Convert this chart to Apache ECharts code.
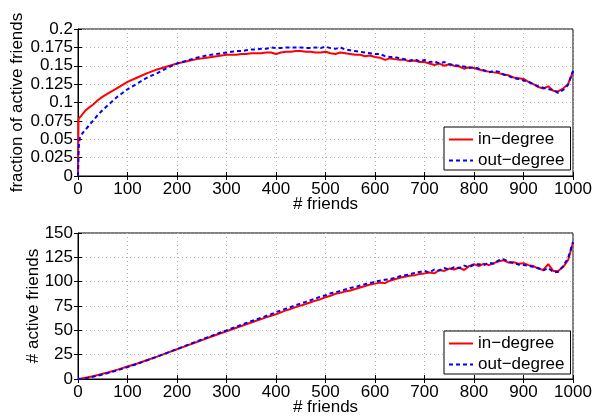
<!DOCTYPE html>
<html>
  <head>
    <meta charset="utf-8" />
    <title>active friends</title>
    <script src="https://cdn.jsdelivr.net/npm/echarts@6/dist/echarts.min.js"></script>
    <style>
      html, body { margin: 0; padding: 0; background: #fff; }
      #chart { width: 593px; height: 419px; }
    </style>
  </head>
  <body>
    <div id="chart"></div>
    <script>
      // x positions (# friends)
      const friends = [0, 1, 2, 4, 7, 10, 15, 20, 30, 40, 50, 60, 80, 100, 120, 140, 160, 180, 200, 220, 240, 260, 280, 300,
        310, 320, 330, 340, 350, 360, 370, 380, 390, 400, 410, 420, 430, 440, 450, 460, 470, 480, 490, 500,
        510, 520, 530, 540, 550, 560, 570, 580, 590, 600, 610, 620, 630, 640, 650, 660, 670, 680, 690, 700,
        710, 720, 730, 740, 750, 760, 770, 780, 790, 800, 810, 820, 830, 840, 850, 860, 870, 880, 890, 900,
        910, 920, 930, 940, 950, 960, 970, 980, 990, 1000]

      // top panel: fraction of active friends
      const fracIn = [0, 0.076, 0.079, 0.08, 0.082, 0.085, 0.089, 0.092, 0.097, 0.103, 0.108, 0.112, 0.12, 0.128, 0.134, 0.14, 0.145, 0.149, 0.153, 0.156, 0.159, 0.161, 0.163, 0.165,
        0.165, 0.165, 0.166, 0.166, 0.167, 0.167, 0.167, 0.168, 0.168, 0.166, 0.168, 0.169, 0.169, 0.17, 0.17, 0.169, 0.169, 0.168, 0.168, 0.169,
        0.167, 0.166, 0.168, 0.167, 0.166, 0.165, 0.165, 0.163, 0.164, 0.162, 0.161, 0.158, 0.16, 0.159, 0.158, 0.158, 0.156, 0.157, 0.155, 0.155,
        0.153, 0.151, 0.153, 0.15, 0.152, 0.15, 0.149, 0.146, 0.148, 0.147, 0.145, 0.143, 0.142, 0.141, 0.14, 0.138, 0.137, 0.134, 0.133, 0.132,
        0.128, 0.125, 0.121, 0.119, 0.122, 0.116, 0.115, 0.119, 0.125, 0.142]
      const fracOut = [0, 0.03, 0.045, 0.052, 0.056, 0.059, 0.063, 0.067, 0.075, 0.083, 0.09, 0.096, 0.108, 0.118, 0.126, 0.134, 0.14, 0.147, 0.153, 0.157, 0.161, 0.164, 0.166, 0.168,
        0.169, 0.17, 0.17, 0.171, 0.172, 0.172, 0.173, 0.173, 0.175, 0.174, 0.174, 0.175, 0.175, 0.175, 0.175, 0.174, 0.174, 0.175, 0.174, 0.176,
        0.174, 0.173, 0.175, 0.172, 0.171, 0.17, 0.169, 0.168, 0.167, 0.166, 0.166, 0.163, 0.162, 0.162, 0.16, 0.159, 0.157, 0.159, 0.156, 0.158,
        0.155, 0.156, 0.153, 0.155, 0.152, 0.151, 0.15, 0.149, 0.147, 0.148, 0.146, 0.144, 0.141, 0.143, 0.142, 0.138, 0.136, 0.133, 0.132, 0.13,
        0.128, 0.125, 0.122, 0.12, 0.118, 0.117, 0.113, 0.117, 0.124, 0.143]

      // bottom panel: # active friends
      const countIn = [0, 0.1, 0.2, 0.3, 0.5, 0.8, 1.3, 1.8, 2.9, 4.1, 5.4, 6.7, 9.6, 12.8, 15.9, 19.5, 23, 26.8, 30.6, 34.3, 38, 41.8, 45.5, 49,
        50.8, 52.6, 54.4, 56.2, 58, 59.8, 61.5, 63.3, 65, 66.5, 68.5, 70.5, 72, 73.8, 75.4, 77, 78.8, 80.5, 82, 84,
        85.5, 87.5, 88.5, 90, 91, 92.5, 94, 95.5, 97, 98, 99, 98.5, 101, 102.5, 104, 105, 106, 106.5, 108, 108.5,
        109.5, 108.5, 112, 111, 113.5, 112.5, 114.5, 112, 116, 118, 116, 118.5, 117, 119, 121, 122, 119.5, 120, 118.5, 119,
        117, 116, 113.5, 112, 118, 111, 111, 115, 122, 140]
      const countOut = [0, 0, 0, 0.1, 0.3, 0.5, 0.9, 1.3, 2.3, 3.4, 4.6, 6, 8.9, 12.2, 15.6, 19.3, 23, 26.9, 30.8, 34.7, 38.6, 42.5, 46.3, 50,
        51.9, 53.7, 55.6, 57.5, 59.4, 61.2, 63, 64.8, 66.5, 68.8, 70.5, 72.3, 74, 75.8, 77.5, 79.2, 81, 82.7, 84.5, 86,
        88, 89, 90.5, 92, 93.5, 94.5, 96, 97.5, 98.5, 100, 101, 102, 102.5, 104, 105.5, 106.5, 107.5, 109, 110, 111,
        109.5, 112.5, 111.5, 114, 112.5, 115, 114, 116.5, 115, 117.5, 118, 117, 119.5, 118.5, 122, 123, 120.5, 119, 117.5, 117,
        116.5, 115, 114, 111.5, 114, 110, 110, 116, 124, 141]

      const seriesNames = ["in\u2212degree", "out\u2212degree"]

      const font = "Liberation Sans, Helvetica, Arial, sans-serif"
      const pairs = (ys) => friends.map((x, i) => [x, ys[i]])

      const myChart = echarts.init(document.getElementById("chart"), null, { renderer: "canvas" })

      const grids = [
        { left: 78, top: 29, width: 495, height: 147, show: true, borderColor: "#000", borderWidth: 1, containLabel: false, outerBoundsMode: "none" },
        { left: 78, top: 233, width: 495, height: 146, show: true, borderColor: "#000", borderWidth: 1, containLabel: false, outerBoundsMode: "none" }
      ]

      const gridLine = { show: true, lineStyle: { color: "#b0b0b0", type: [1, 3], width: 1 } }
      const tick = { show: true, inside: true, length: 4, lineStyle: { color: "#000" } }

      function xAx(gi) {
        return {
          type: "value",
          gridIndex: gi,
          min: 0,
          max: 1000,
          interval: 100,
          name: "# friends",
          nameLocation: "middle",
          nameGap: 20,
          nameMoveOverlap: false,
          nameTextStyle: { fontFamily: font, fontSize: 17, color: "#000" },
          axisLine: { lineStyle: { color: "#000", width: 1 } },
          axisTick: tick,
          axisLabel: { fontFamily: font, fontSize: 17, color: "#000", margin: 5, formatter: (v) => String(v) },
          splitLine: gridLine
        }
      }

      // top/right mirror axes (ticks only)
      function xTop(gi) {
        return {
          type: "value", gridIndex: gi, position: "top", min: 0, max: 1000, interval: 100,
          axisLine: { show: false }, axisTick: tick, axisLabel: { show: false }, splitLine: { show: false }
        }
      }

      function yAx(gi, max, interval, name, fmt) {
        return {
          type: "value",
          gridIndex: gi,
          min: 0,
          max: max,
          interval: interval,
          name: name,
          nameLocation: "middle",
          nameGap: gi === 0 ? 52 : 36,
          nameMoveOverlap: false,
          nameTextStyle: { fontFamily: font, fontSize: 17, color: "#000" },
          axisLine: { show: true, lineStyle: { color: "#000", width: 1 } },
          axisTick: tick,
          axisLabel: { fontFamily: font, fontSize: 17, color: "#000", margin: 5, formatter: fmt },
          splitLine: gridLine
        }
      }

      function yRight(gi, max, interval) {
        return {
          type: "value", gridIndex: gi, position: "right", min: 0, max: max, interval: interval,
          axisLine: { show: false }, axisTick: tick, axisLabel: { show: false }, splitLine: { show: false }
        }
      }

      function lineSeries(name, gi, ys, color, dashed) {
        return {
          name: name,
          type: "line",
          xAxisIndex: gi,
          yAxisIndex: gi,
          data: pairs(ys),
          symbol: "none",
          smooth: false,
          z: dashed ? 3 : 2,
          lineStyle: { color: color, width: 2, type: dashed ? [4, 3] : "solid" },
          itemStyle: { color: color }
        }
      }

      function legendFor(top) {
        return {
          orient: "vertical",
          left: 444,
          top: top,
          padding: [4, 6, 1, 4],
          itemGap: 4,
          itemWidth: 24,
          itemHeight: 18,
          backgroundColor: "#fff",
          borderColor: "#000",
          borderWidth: 1,
          borderRadius: 0,
          itemStyle: { opacity: 0 },
          textStyle: { fontFamily: font, fontSize: 17, color: "#000" },
          data: seriesNames
        }
      }

      const option = {
        animation: false,
        backgroundColor: "#fff",
        grid: grids,
        xAxis: [xAx(0), xAx(1), xTop(0), xTop(1)],
        yAxis: [
          yAx(0, 0.2, 0.025, "fraction of active friends", (v) => String(+v.toFixed(3))),
          yAx(1, 150, 25, "# active friends", (v) => String(v)),
          yRight(0, 0.2, 0.025),
          yRight(1, 150, 25)
        ],
        legend: [legendFor(127), legendFor(331)],
        series: [
          lineSeries(seriesNames[0], 0, fracIn, "#ff0000", false),
          lineSeries(seriesNames[1], 0, fracOut, "#0000ff", true),
          lineSeries(seriesNames[0], 1, countIn, "#ff0000", false),
          lineSeries(seriesNames[1], 1, countOut, "#0000ff", true)
        ]
      }
      myChart.setOption(option)
    </script>
  </body>
</html>
